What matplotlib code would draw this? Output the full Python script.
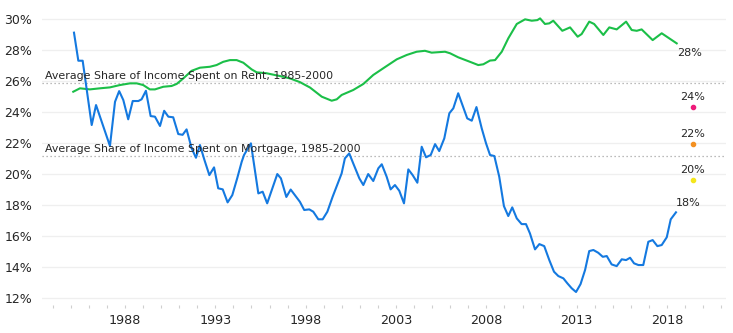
import numpy as np
import matplotlib
matplotlib.use('Agg')
import matplotlib.pyplot as plt
from matplotlib.ticker import MultipleLocator, FuncFormatter

# share of income spent on mortgage (blue)
mort_year = [1985.18, 1985.42, 1985.66, 1986.16, 1986.40, 1987.17, 1987.45, 1987.68, 1987.91,
             1988.18, 1988.43, 1988.74, 1988.92, 1989.16, 1989.42, 1989.66, 1989.94,
             1990.17, 1990.40, 1990.67, 1990.95, 1991.19, 1991.41, 1991.69, 1991.93,
             1992.15, 1992.40, 1992.67, 1992.93, 1993.16, 1993.41, 1993.68, 1993.94,
             1994.21, 1994.46, 1994.59, 1994.97, 1995.38, 1995.62, 1995.87, 1996.43,
             1996.63, 1996.93, 1997.17, 1997.68, 1997.92, 1998.20, 1998.42, 1998.70,
             1998.94, 1999.20, 1999.49, 1999.99, 2000.17, 2000.41, 2000.63, 2000.97,
             2001.19, 2001.46, 2001.74, 2002.02, 2002.21, 2002.48, 2002.70, 2002.94,
             2003.18, 2003.44, 2003.68, 2003.92, 2004.18, 2004.42, 2004.66, 2004.92,
             2005.16, 2005.39, 2005.67, 2005.95, 2006.17, 2006.44, 2006.94, 2007.19,
             2007.45, 2007.74, 2007.98, 2008.20, 2008.44, 2008.71, 2008.97, 2009.21,
             2009.43, 2009.68, 2009.95, 2010.19, 2010.41, 2010.69, 2010.93, 2011.20,
             2011.48, 2011.74, 2011.98, 2012.26, 2012.48, 2012.72, 2012.96, 2013.21,
             2013.46, 2013.69, 2013.92, 2014.19, 2014.44, 2014.66, 2014.93, 2015.21,
             2015.49, 2015.73, 2015.95, 2016.17, 2016.41, 2016.68, 2016.96, 2017.20,
             2017.46, 2017.70, 2017.98, 2018.20, 2018.49]
mort_val = [29.14, 27.33, 27.33, 23.18, 24.47, 21.83, 24.68, 25.37, 24.79,
            23.55, 24.73, 24.73, 24.84, 25.39, 23.76, 23.72, 23.12,
            24.10, 23.72, 23.68, 22.60, 22.55, 22.90, 21.68, 21.07,
            21.89, 20.92, 19.95, 20.45, 19.10, 19.03, 18.19, 18.66,
            19.74, 20.81, 21.25, 22.00, 18.77, 18.88, 18.13, 20.02,
            19.74, 18.54, 19.02, 18.23, 17.70, 17.74, 17.59, 17.10,
            17.10, 17.59, 18.55, 20.06, 21.03, 21.35, 20.71, 19.74,
            19.31, 20.02, 19.57, 20.39, 20.65, 19.85, 19.03, 19.31,
            18.94, 18.13, 20.32, 19.95, 19.46, 21.78, 21.10, 21.25,
            21.95, 21.50, 22.32, 23.94, 24.26, 25.23, 23.61, 23.46,
            24.34, 22.97, 22.00, 21.25, 21.18, 19.85, 17.95, 17.31,
            17.87, 17.16, 16.79, 16.79, 16.19, 15.16, 15.50, 15.37,
            14.47, 13.72, 13.44, 13.29, 12.97, 12.65, 12.41, 12.92,
            13.83, 15.05, 15.12, 14.94, 14.68, 14.73, 14.19, 14.08,
            14.52, 14.47, 14.62, 14.26, 14.15, 14.15, 15.65, 15.76,
            15.37, 15.44, 15.94, 17.10, 17.55]

# share of income spent on rent (green)
rent_year = [1985.14, 1985.51, 1986.06, 1986.62, 1987.17, 1987.72, 1988.28, 1988.65,
             1989.01, 1989.38, 1989.66, 1990.12, 1990.58, 1990.86, 1991.23, 1991.69,
             1992.15, 1992.70, 1993.07, 1993.44, 1993.81, 1994.18, 1994.55, 1995.01,
             1995.29, 1995.84, 1996.58, 1997.13, 1997.68, 1998.24, 1998.89, 1999.44,
             1999.72, 1999.99, 2000.63, 2001.19, 2001.74, 2002.29, 2003.04, 2003.59,
             2004.14, 2004.60, 2004.97, 2005.71, 2005.99, 2006.44, 2007.09, 2007.55,
             2007.83, 2008.20, 2008.48, 2008.85, 2009.21, 2009.68, 2010.14, 2010.51,
             2010.82, 2010.97, 2011.24, 2011.48, 2011.70, 2012.20, 2012.63, 2013.05,
             2013.27, 2013.69, 2013.96, 2014.47, 2014.80, 2015.21, 2015.73, 2016.04,
             2016.32, 2016.59, 2017.20, 2017.70, 2018.53]
rent_val = [25.33, 25.55, 25.48, 25.55, 25.61, 25.76, 25.87, 25.87,
            25.76, 25.48, 25.48, 25.65, 25.70, 25.83, 26.19, 26.68,
            26.88, 26.94, 27.05, 27.26, 27.37, 27.37, 27.20, 26.77,
            26.58, 26.52, 26.34, 26.19, 25.95, 25.60, 25.01, 24.75,
            24.84, 25.12, 25.44, 25.83, 26.41, 26.84, 27.42, 27.70,
            27.91, 27.97, 27.85, 27.91, 27.81, 27.55, 27.26, 27.05,
            27.10, 27.34, 27.37, 27.91, 28.77, 29.70, 30.00, 29.91,
            29.95, 30.06, 29.70, 29.74, 29.91, 29.26, 29.48, 28.88,
            29.05, 29.85, 29.70, 28.99, 29.48, 29.35, 29.85, 29.31,
            29.26, 29.35, 28.66, 29.10, 28.45]

rent_avg = 25.87
mort_avg = 21.2

# extra points at the right edge
dot_year = 2019.43
dot_val = [24.34, 21.94, 19.63]
dot_col = ['#ee1b7a', '#f39021', '#f4e61c']

blue = '#1479e0'
green = '#1bbf48'
txt = '#262626'

fig = plt.figure(figsize=(7.33, 3.33), dpi=100)
ax = fig.add_axes([0.0573, 0.084, 0.9332, 0.871])

ax.plot(rent_year, rent_val, color=green, lw=1.5, solid_joinstyle='round', zorder=3)
ax.plot(mort_year, mort_val, color=blue, lw=1.5, solid_joinstyle='round', zorder=3)

ax.axhline(rent_avg, color='#a5a5a5', ls=(0, (1, 2.2)), lw=0.9, zorder=2)
ax.axhline(mort_avg, color='#a5a5a5', ls=(0, (1, 2.2)), lw=0.9, zorder=2)
ax.text(1983.6, rent_avg + 0.12, 'Average Share of Income Spent on Rent, 1985-2000',
        fontsize=7.9, color=txt, va='bottom', ha='left', zorder=4)
ax.text(1983.6, mort_avg + 0.12, 'Average Share of Income Spent on Mortgage, 1985-2000',
        fontsize=7.9, color=txt, va='bottom', ha='left', zorder=4)

# end labels
ax.annotate('%d%%' % round(rent_val[-1]), (rent_year[-1], rent_val[-1]),
            xytext=(0, -3), textcoords='offset points', ha='left', va='top',
            fontsize=8, color=txt)
ax.annotate('%d%%' % round(mort_val[-1]), (mort_year[-1], mort_val[-1]),
            xytext=(0, 3), textcoords='offset points', ha='left', va='bottom',
            fontsize=8, color=txt)
for v, c in zip(dot_val, dot_col):
    ax.plot(dot_year, v, 'o', ms=3, color=c, mec=c, zorder=4)
    ax.annotate('%d%%' % round(v), (dot_year, v), xytext=(-0.5, 3.5),
                textcoords='offset points', ha='center', va='bottom',
                fontsize=8, color=txt)

ax.set_xlim(1983.41, 2021.26)
ax.set_ylim(11.57, 30.28)
ax.yaxis.set_major_locator(MultipleLocator(2))
ax.yaxis.set_major_formatter(FuncFormatter(lambda v, p: '%d%%' % v))
ax.set_xticks([1988, 1993, 1998, 2003, 2008, 2013, 2018])
ax.xaxis.set_minor_locator(MultipleLocator(1))
ax.grid(axis='y', color='#efefef', lw=0.9, zorder=0)
for s in ax.spines.values():
    s.set_visible(False)
ax.tick_params(axis='y', length=0, labelsize=9, labelcolor=txt, pad=7)
ax.tick_params(axis='x', which='both', length=2.5, width=0.8, color='#cfcfcf',
               labelsize=9.2, labelcolor=txt, pad=4)

fig.savefig('out.png', dpi=100)
